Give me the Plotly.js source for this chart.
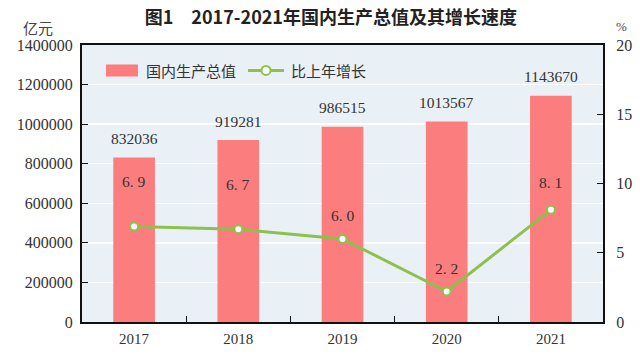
<!DOCTYPE html>
<html><head><meta charset="utf-8">
<script src="https://cdn.plot.ly/plotly-3.0.1.min.js"></script>
<style>html,body{margin:0;padding:0;background:#fff}#chart{width:640px;height:360px}</style>
</head><body><div id="chart"></div>
<script>
const years = ['2017','2018','2019','2020','2021'];
const gdp = [832036, 919281, 986515, 1013567, 1143670];
const growth = [6.9, 6.7, 6.0, 2.2, 8.1];
const growthLabels = ['6. 9','6. 7','6. 0','2. 2','8. 1'];
const growthLabelShift = [45, 45, 23, 23, 27];
const seriesNames = ['国内生产总值', '比上年增长'];

const serif = '"Liberation Serif", "DejaVu Serif", serif';
const cjk = '"Noto Sans CJK SC", sans-serif';
const green = '#8DC04E';
const red = '#FB7D7D';

const traces = [
  {type:'bar', x: years, y: gdp, name:seriesNames[0], marker:{color:red}, width:0.4, yaxis:'y', showlegend:false},
  {type:'scatter', mode:'lines+markers', x: years, y: growth, name:seriesNames[1], yaxis:'y2', showlegend:false,
   line:{color:green, width:3}, marker:{size:8, color:'#ffffff', line:{color:green, width:2}}}
];

const annotations = [];
gdp.forEach((v,i)=>annotations.push({x:i, y:v, xref:'x', yref:'y', text:String(v), showarrow:false,
  yshift:19, font:{family:serif, size:15.5, color:'#333'}}));
growth.forEach((v,i)=>annotations.push({x:i, y:v, xref:'x', yref:'y2', text:growthLabels[i], showarrow:false,
  yshift:growthLabelShift[i], font:{family:serif, size:15.5, color:'#333'}}));
annotations.push({xref:'paper', yref:'paper', x:-0.085, y:1.062, xanchor:'center', yanchor:'middle', text:'亿元', showarrow:false, font:{family:cjk, size:15, color:'#444'}});
annotations.push({xref:'paper', yref:'paper', x:1.035, y:1.065, xanchor:'center', yanchor:'middle', text:'%', showarrow:false, font:{family:serif, size:13, color:'#444'}});

// custom legend (paper coordinates of plot area: 521 x 277 px)
const px = v => (v - 82) / 521;
const legY = 0.908;
annotations.push({xref:'paper', yref:'paper', x:px(144), y:legY, xanchor:'left', yanchor:'middle', text:seriesNames[0], showarrow:false, font:{family:cjk, size:15, color:'#333'}});
annotations.push({xref:'paper', yref:'paper', x:px(289), y:legY, xanchor:'left', yanchor:'middle', text:seriesNames[1], showarrow:false, font:{family:cjk, size:15, color:'#333'}});
const shapes = [
  {type:'rect', xref:'paper', yref:'paper', x0:px(106), x1:px(138), y0:legY-6/277, y1:legY+6/277, fillcolor:red, line:{width:0}},
  {type:'line', xref:'paper', yref:'paper', x0:px(248), x1:px(284), y0:legY, y1:legY, line:{color:green, width:3}},
  {type:'circle', xref:'paper', yref:'paper', x0:px(261.5), x1:px(270.5), y0:legY-4.5/277, y1:legY+4.5/277, fillcolor:'#ffffff', line:{color:green, width:2}}
];

const layout = {
  width:640, height:360,
  margin:{l:82, r:37, t:45, b:38},
  paper_bgcolor:'#ffffff', plot_bgcolor:'#EAF1F6',
  title:{text:'<b>图1　2017-2021年国内生产总值及其增长速度</b>', x:0.517, xanchor:'center', y:0.952, yanchor:'middle',
    font:{family:cjk, size:18, color:'#222'}},
  showlegend:false,
  xaxis:{type:'category', range:[-0.5,4.5], autorange:false, showline:true, linecolor:'#111', linewidth:2, mirror:true, ticks:'inside', ticklen:6, tickcolor:'#111',
    tickson:'boundaries', showgrid:false, tickangle:0, ticklabelstandoff:2, tickfont:{family:serif, size:15, color:'#333'}},
  yaxis:{range:[0,1400000], autorange:false, dtick:200000, showline:true, linecolor:'#111', linewidth:2, ticks:'inside', ticklen:6, tickcolor:'#111',
    showgrid:true, gridcolor:'#ffffff', gridwidth:1.5, zeroline:false, tickformat:'d', ticklabelstandoff:4, tickfont:{family:serif, size:16, color:'#333'}},
  yaxis2:{range:[0,20], autorange:false, dtick:5, overlaying:'y', side:'right', showline:true, linecolor:'#111', linewidth:2, ticks:'inside', ticklen:6, tickcolor:'#111',
    showgrid:false, zeroline:false, ticklabelstandoff:8, tickfont:{family:serif, size:16, color:'#333'}},
  annotations: annotations,
  shapes: shapes
};
Plotly.newPlot('chart', traces, layout, {displayModeBar:false, staticPlot:true});
</script></body></html>
